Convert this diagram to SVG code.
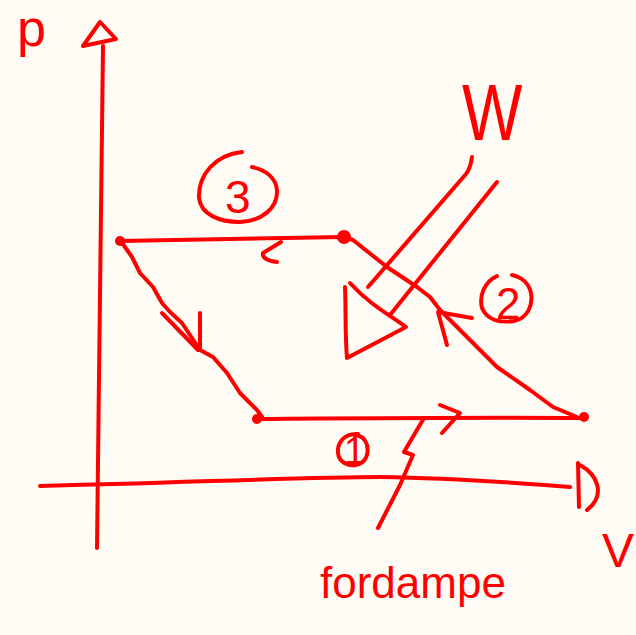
<svg xmlns="http://www.w3.org/2000/svg" width="636" height="635" viewBox="0 0 636 635">
<style>
.s{fill:none;stroke:#ff0000;stroke-width:4;stroke-linecap:round;stroke-linejoin:round}
.t{fill:#ff0000;font-family:"Liberation Sans",Arial,sans-serif}
.d{fill:#ff0000}
</style>
<rect width="636" height="635" fill="#fffbf5"/>
<g id="axes">
<path class="s" d="M103,46 C101,200 99,380 97,548"/>
<path class="s" d="M83,46 L100,22 L116,39 L83,46"/>
<path class="s" d="M40,486 C180,483 300,477 380,477 C450,478 520,483 570,487"/>
<path class="s" d="M578,463 L579,507 M580,465 C598,475 606,495 587,510"/>
<text class="t" x="17" y="46" font-size="52">p</text>
<text class="t" x="602" y="567" font-size="48">V</text>
</g>
<g id="connectors">
<path class="s" d="M120,241 C200,239 280,238 344,237"/>
<path class="s" d="M281,242 L263,253 C262,258 268,261 277,262"/>
<path class="s" d="M120,240 L132,257 L140,273 L153,287 L162,303 L170,312 L182,323 L200,350 L213,357 L227,373 L240,393 L257,410 L262,417"/>
<path class="s" d="M162,313 L198,350 M200,313 L200,348"/>
<path class="s" d="M257,419 C380,418 480,417 584,418"/>
<path class="s" d="M440,405 L460,413 L442,433"/>
<path class="s" d="M344,237 L353,240 L387,267 L417,287 L430,297 L440,310 L453,323 L470,340 L497,367 L530,390 L553,407 L577,417"/>
<path class="s" d="M472,318 L438,312 L447,345"/>
<path class="s" d="M424,418 L404,452 L413,455 L400,485 L378,528"/>
</g>
<g id="work">
<path class="s" d="M472,157 C471,165 469,170 466,174 L368,287"/>
<path class="s" d="M497,182 L390,315"/>
<path class="s" d="M350,283 C370,305 390,315 406,327 L347,358 C345,335 346,310 345,287"/>
<text class="t" x="462" y="140" font-size="64" transform="translate(462,140) scale(1,1.25) translate(-462,-140)">W</text>
</g>
<g id="node-a"><circle class="d" cx="120" cy="241" r="5"/></g>
<g id="node-b"><circle class="d" cx="344" cy="237" r="7"/></g>
<g id="node-c"><circle class="d" cx="584" cy="417" r="5"/></g>
<g id="node-d"><circle class="d" cx="257" cy="419" r="5"/></g>
<g id="label-3">
<path class="s" d="M242,152 C215,155 198,175 199,198 C201,215 220,222 240,222 C262,221 278,208 277,190 C276,178 266,170 252,167"/>
<text class="t" x="225" y="213" font-size="46">3</text>
</g>
<g id="label-2">
<path class="s" d="M497,276 C484,282 479,296 482,308 C487,320 500,323 514,321 C528,318 533,305 531,293 C529,283 521,277 512,275"/>
<text class="t" x="496" y="319" font-size="44">2</text>
</g>
<g id="label-1">
<path class="s" d="M358,434 C344,433 337,443 338,453 C339,462 347,466 356,465 C366,463 369,454 367,445 C365,438 360,435 354,435"/>
<text class="t" x="344" y="464" font-size="38">1</text>
</g>
<g id="label-fordampe">
<text class="t" x="320" y="598" font-size="44">fordampe</text>
</g>
</svg>
